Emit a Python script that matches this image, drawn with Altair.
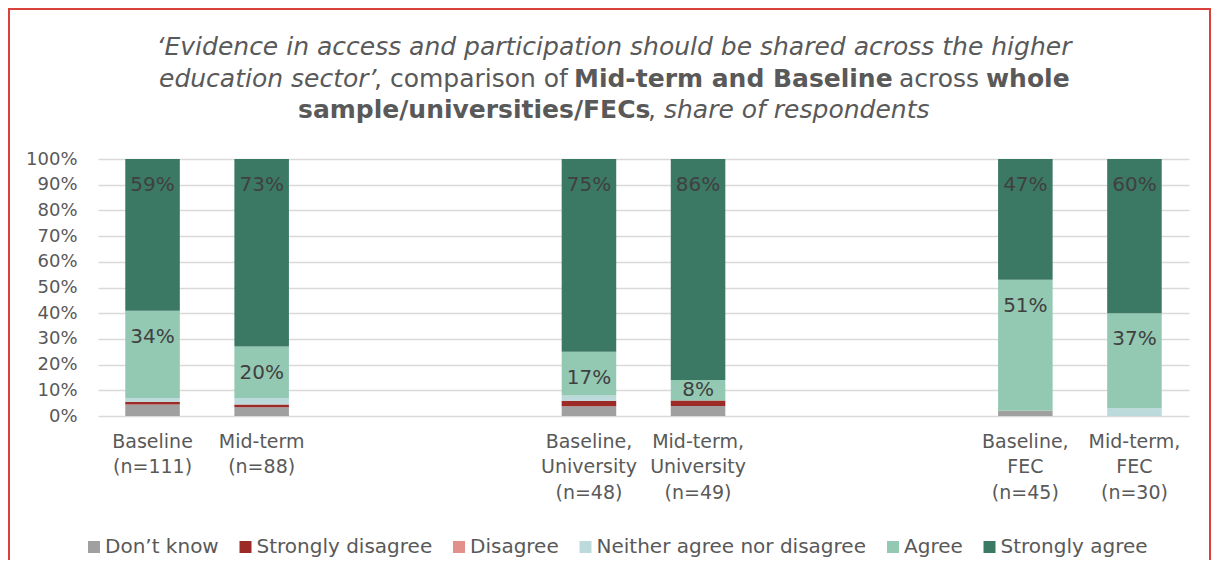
import altair as alt
import pandas as pd

# ---------------- data ----------------
categories = ["Baseline|(n=111)", "Mid-term|(n=88)", "gap1", "gap2",
              "Baseline,|University|(n=48)", "Mid-term,|University|(n=49)", "gap3", "gap4",
              "Baseline,|FEC|(n=45)", "Mid-term,|FEC|(n=30)"]
bar_cats = [c for c in categories if not c.startswith("gap")]
responses = ["Don\u2019t know", "Strongly disagree", "Disagree",
             "Neither agree nor disagree", "Agree", "Strongly agree"]
colors = ["#a0a0a0", "#9c2a27", "#e3908b", "#bcdadc", "#93c8b2", "#3b7964"]

dont_know = [4.5, 3.4, 3.8, 3.9, 2.0, 0.0]
strongly_disagree = [1.0, 1.1, 2.1, 2.1, 0.0, 0.0]
disagree = [0.0, 0.0, 0.0, 0.0, 0.0, 0.0]
neither = [1.5, 2.5, 2.1, 0.0, 0.0, 3.0]
agree = [34, 20, 17, 8, 51, 37]
strongly_agree = [59, 73, 75, 86, 47, 60]
y_ticks = [0, 0.1, 0.2, 0.3, 0.4, 0.5, 0.6, 0.7, 0.8, 0.9, 1.0]

series = [dont_know, strongly_disagree, disagree, neither, agree, strongly_agree]
rows = []
for i, cat in enumerate(bar_cats):
    for j, resp in enumerate(responses):
        rows.append({"cat": cat, "resp": resp, "order": j, "share": series[j][i] / 100.0})
df = pd.DataFrame(rows)

FONT = "DejaVu Sans"
GREY = "#595959"
PLOT_W = 1091
PLOT_H = 257
LABEL_DROP = 26.0 / PLOT_H   # label sits ~26px under the segment top

# ---------------- bars ----------------
base = alt.Chart(df).transform_stack(
    stack="share", groupby=["cat"], as_=["y0", "y1"],
    sort=[alt.SortField("order", order="ascending")]
)

x_scale = alt.Scale(domain=categories, paddingInner=0.5, paddingOuter=0.25)
x_axis = alt.Axis(title=None, labelAngle=0, domain=False, ticks=False,
                  labelExpr="indexof(datum.value, 'gap') == 0 ? '' : split(datum.value, '|')",
                  labelFontSize=19, labelColor=GREY, labelLineHeight=25.5,
                  labelPadding=16, labelOverlap=False)
y_scale = alt.Scale(domain=[0, 1], nice=False)
y_axis = alt.Axis(title=None, format=".0%", values=y_ticks,
                  domain=False, ticks=False, gridColor="#d9d9d9", gridWidth=1.5,
                  labelPadding=21, labelFontSize=18, labelColor=GREY,
                  labelOverlap=False)

bars = base.mark_bar().encode(
    x=alt.X("cat:N", scale=x_scale, axis=x_axis),
    y=alt.Y("y0:Q", scale=y_scale, axis=y_axis),
    y2="y1:Q",
    color=alt.Color("resp:N",
                    scale=alt.Scale(domain=responses, range=colors),
                    legend=alt.Legend(title=None, orient="none", legendX=-14, legendY=378,
                                      direction="horizontal", symbolType="square",
                                      symbolSize=144, symbolStrokeWidth=0,
                                      labelFontSize=20, labelColor=GREY, labelOffset=1,
                                      columnPadding=16.5, padding=0, labelLimit=400)),
)

labels = base.transform_filter(
    "datum.resp == 'Agree' || datum.resp == 'Strongly agree'"
).transform_calculate(
    lab="format(datum.share, '.0%')",
    ylab=f"datum.share >= 0.12 ? datum.y1 - {LABEL_DROP} : (datum.y0 + datum.y1) / 2",
).mark_text(fontSize=20, color="#404040", baseline="middle").encode(
    x=alt.X("cat:N", scale=x_scale, axis=x_axis),
    y=alt.Y("ylab:Q", scale=y_scale, axis=y_axis),
    text="lab:N",
)

# ---------------- frame ----------------
one = pd.DataFrame({"a": [0]})
frame = alt.Chart(one).mark_rect(fill="transparent", stroke="#d9413a", strokeWidth=2).encode(
    x=alt.value(-89), x2=alt.value(1112), y=alt.value(-150), y2=alt.value(420)
)

# ---------------- title (mixed styles) ----------------
TS = 25
segments = [
    # text, x, y, style, weight, align
    ("\u2018Evidence in access and participation should be shared across the higher", 516, -104, "italic", "normal", "center"),
    ("education sector\u2019", 61, -72.5, "italic", "normal", "left"),
    (", comparison of", 276, -72.5, "normal", "normal", "left"),
    ("Mid-term and Baseline", 476, -72.5, "normal", "bold", "left"),
    ("across", 801, -72.5, "normal", "normal", "left"),
    ("whole", 888, -72.5, "normal", "bold", "left"),
    ("sample/universities/FECs", 200, -41, "normal", "bold", "left"),
    (",", 550, -41, "normal", "normal", "left"),
    ("share of respondents", 566, -41, "italic", "normal", "left"),
]
title_layers = []
for txt, tx, ty, st, wt, al in segments:
    title_layers.append(
        alt.Chart(one).mark_text(text=txt, fontSize=TS, fontStyle=st, fontWeight=wt,
                                 align=al, baseline="alphabetic", color=GREY).encode(
            x=alt.value(tx), y=alt.value(ty))
    )

chart = alt.layer(frame, *title_layers, bars, labels).properties(
    width=PLOT_W, height=PLOT_H,
    autosize=alt.AutoSizeParams(type="none"),
    padding={"left": 90, "top": 151, "right": 22, "bottom": 144},
).configure(font=FONT).configure_view(strokeWidth=0)

chart.save("out.html", embed_options={"renderer": "svg", "actions": False})
